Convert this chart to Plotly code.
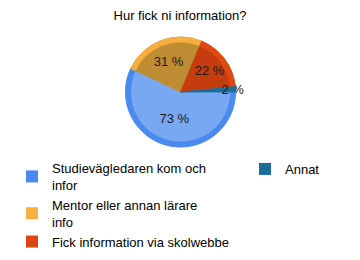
import plotly.graph_objects as go

title = "Hur fick ni information?"
labels = ["Studievägledaren kom och<br>infor", "Mentor eller annan lärare<br>info",
          "Fick information via skolwebbe", "Annat"]
values = [73, 31, 22, 2]
texts = ["73 %", "31 %", "22 %", "2 %"]
fill_colors = ["#78a8f2", "#bd8c33", "#c53c0e", "#1b6c9a"]
rim_colors = ["#4a8af0", "#f7ae3e", "#e04a12", "#1b6c9a"]
legend_colors = ["#4a8af0", "#f7b040", "#dd4414", "#1b6c9a"]

W, H = 360, 260
cx, cy, r = 180.5, 92, 55
dom_x = [(cx - r) / W, (cx + r) / W]
dom_y = [1 - (cy + r) / H, 1 - (cy - r) / H]
tiny_x = [(cx - 2) / W, (cx + 2) / W]
tiny_y = [1 - (cy + 2) / H, 1 - (cy - 2) / H]
noline = dict(width=0)

fig = go.Figure()
# legend-only helpers hidden under the pie (column layout of the legend)
fig.add_trace(go.Pie(labels=labels[:3], values=values[:3], sort=False, direction="clockwise",
                     marker=dict(colors=legend_colors[:3], line=noline), textinfo="none",
                     hoverinfo="skip", domain=dict(x=tiny_x, y=tiny_y), legend="legend"))
fig.add_trace(go.Pie(labels=labels[3:], values=values[3:], sort=False, direction="clockwise",
                     marker=dict(colors=legend_colors[3:], line=noline), textinfo="none",
                     hoverinfo="skip", domain=dict(x=tiny_x, y=tiny_y), legend="legend2"))
# main pie
fig.add_trace(go.Pie(labels=labels, values=values, text=texts, textinfo="text",
                     sort=False, direction="clockwise", rotation=90,
                     marker=dict(colors=fill_colors, line=dict(color=fill_colors, width=0.8)),
                     textposition="inside", insidetextorientation="horizontal",
                     textfont=dict(family="Liberation Sans, Arial", size=13, color="#1a1a1a"),
                     domain=dict(x=dom_x, y=dom_y), showlegend=False))
# rim
fig.add_trace(go.Pie(labels=labels, values=values, hole=0.91, textinfo="none",
                     sort=False, direction="clockwise", rotation=90,
                     marker=dict(colors=rim_colors, line=dict(color=rim_colors, width=0.8)),
                     hoverinfo="skip", domain=dict(x=dom_x, y=dom_y), showlegend=False))

fig.update_layout(
    width=W, height=H,
    margin=dict(l=0, r=0, t=0, b=0, autoexpand=False),
    paper_bgcolor="white", plot_bgcolor="white",
    font=dict(family="Liberation Sans, Arial", size=12, color="#000000"),
    title=dict(text=title, x=0.5, xanchor="center", y=1 - 15 / H, yanchor="middle",
               font=dict(size=13, color="#000000")),
    uniformtext=dict(minsize=13, mode="show"),
    legend=dict(x=12 / W, y=1 - 153 / H,
                xanchor="left", yanchor="top", orientation="v",
                font=dict(size=13), bgcolor="rgba(0,0,0,0)", tracegroupgap=0),
    legend2=dict(x=245 / W, y=1 - 154 / H,
                 xanchor="left", yanchor="top", orientation="v",
                 font=dict(size=13), bgcolor="rgba(0,0,0,0)"),
)

fig.write_html("out.html")
